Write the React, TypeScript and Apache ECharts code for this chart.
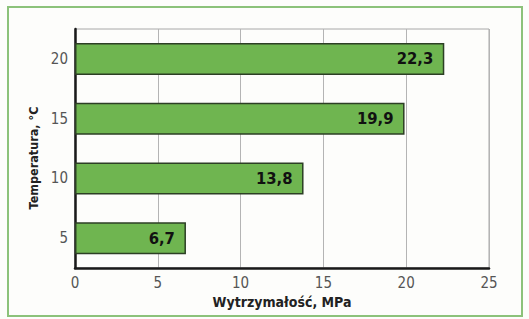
import React, { useEffect, useRef } from "react";
import * as echarts from "echarts";

const categories = ["5", "10", "15", "20"];
const values = [6.7, 13.8, 19.9, 22.3];
const valueLabels = ["6,7", "13,8", "19,9", "22,3"];
const xTicks = [0, 5, 10, 15, 20, 25];

const FONT = "'DejaVu Sans Condensed', 'Roboto', sans-serif";

export default function App() {
  const ref = useRef<HTMLDivElement>(null);
  useEffect(() => {
    const chart = echarts.init(ref.current!, null, { renderer: "svg" });
    chart.setOption({
      animation: false,
      backgroundColor: "#fdfdfb",
      grid: { left: 75, top: 29, width: 414, height: 239, show: true, borderColor: "#a8a8a8", borderWidth: 1 },
      xAxis: {
        type: "value",
        min: xTicks[0],
        max: xTicks[xTicks.length - 1],
        interval: 5,
        axisLine: { show: true, onZero: false, lineStyle: { color: "#1a1a1a", width: 2.5 } },
        axisTick: { show: false },
        splitLine: { show: true, lineStyle: { color: "#b4b4b4", width: 1 } },
        axisLabel: { color: "#555", fontFamily: FONT, fontSize: 15, margin: 7 },
      },
      yAxis: {
        type: "category",
        data: categories,
        axisLine: { show: true, lineStyle: { color: "#1a1a1a", width: 2.5 } },
        axisTick: { show: false },
        axisLabel: { color: "#555", fontFamily: FONT, fontSize: 15, margin: 7 },
      },
      series: [
        {
          type: "bar",
          data: values,
          barWidth: 32,
          itemStyle: { color: "#6fb550", borderColor: "#2c3f24", borderWidth: 1.5 },
          label: {
            show: true,
            position: "insideRight",
            distance: 11,
            formatter: (p: any) => valueLabels[p.dataIndex],
            color: "#111",
            fontFamily: FONT,
            fontWeight: "bold",
            fontSize: 16.5,
          },
        },
      ],
      graphic: [
        {
          type: "rect",
          shape: { x: 8, y: 7, width: 514, height: 309 },
          style: { fill: "none", stroke: "#8cc27a", lineWidth: 2 },
          silent: true,
        },
        {
          type: "text",
          x: 282,
          y: 302,
          style: {
            text: "Wytrzymałość, MPa",
            fontFamily: FONT,
            fontWeight: "bold",
            fontSize: 14,
            fill: "#222",
            align: "center",
            verticalAlign: "middle",
          },
        },
        {
          type: "text",
          x: 33,
          y: 158,
          rotation: Math.PI / 2,
          style: {
            text: "Temperatura, °C",
            fontFamily: FONT,
            fontWeight: "bold",
            fontSize: 12.5,
            fill: "#222",
            align: "center",
            verticalAlign: "middle",
          },
        },
      ],
    });
    return () => chart.dispose();
  }, []);
  return <div ref={ref} style={{ position: "fixed", left: 0, top: 0, width: 529, height: 319 }} />;
}
